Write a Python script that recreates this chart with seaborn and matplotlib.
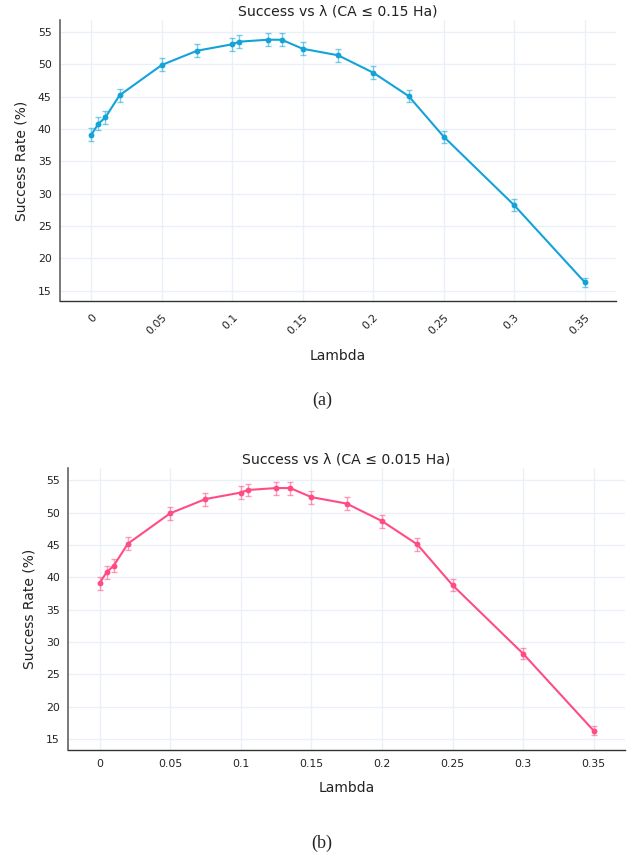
import matplotlib
matplotlib.use("Agg")
import matplotlib.pyplot as plt
import seaborn as sns
import pandas as pd

# Regularisation strengths tested
lambdas = [0, 0.005, 0.01, 0.02, 0.05, 0.075, 0.1, 0.105, 0.125, 0.135,
           0.15, 0.175, 0.2, 0.225, 0.25, 0.3, 0.35]

# Success rate (%) and its uncertainty, CA <= 0.15 Ha
success_a = [39.1, 40.8, 41.8, 45.2, 49.9, 52.1, 53.1, 53.5, 53.8, 53.8,
             52.4, 51.4, 48.7, 45.1, 38.8, 28.2, 16.3]
err_a = [1.0, 1.0, 1.0, 1.0, 1.0, 1.0, 1.0, 1.0, 1.0, 1.0,
         1.0, 1.0, 1.0, 1.0, 0.9, 0.9, 0.7]

# Success rate (%) and its uncertainty, CA <= 0.015 Ha
success_b = [39.1, 40.8, 41.8, 45.2, 49.9, 52.1, 53.1, 53.5, 53.8, 53.8,
             52.4, 51.4, 48.7, 45.1, 38.8, 28.2, 16.3]
err_b = [1.0, 1.0, 1.0, 1.0, 1.0, 1.0, 1.0, 1.0, 1.0, 1.0,
         1.0, 1.0, 1.0, 1.0, 0.9, 0.9, 0.7]

x_ticks = [0, 0.05, 0.1, 0.15, 0.2, 0.25, 0.3, 0.35]
x_ticklabels = ["0", "0.05", "0.1", "0.15", "0.2", "0.25", "0.3", "0.35"]
y_ticks = [15, 20, 25, 30, 35, 40, 45, 50, 55]

titles = ["Success vs λ (CA ≤ 0.15 Ha)", "Success vs λ (CA ≤ 0.015 Ha)"]
panel_tags = ["(a)", "(b)"]
colors = ["#13a3d8", "#ff4d84"]

sns.set_style("white")
plt.rcParams["font.family"] = ["DejaVu Sans"]

fig = plt.figure(figsize=(6.33, 8.59), dpi=100)
ax_a = fig.add_axes([0.0948, 0.6492, 0.878, 0.3275])
ax_b = fig.add_axes([0.1079, 0.1272, 0.879, 0.3276])

grid_color = "#ebf0f8"


def draw_panel(ax, success, err, color, title, rotate):
    df = pd.DataFrame({"Lambda": lambdas, "Success": success})
    ax.errorbar(lambdas, success, yerr=err, fmt="none", ecolor=color,
                alpha=0.55, elinewidth=1.0, capsize=2.3, capthick=1.0,
                zorder=3)
    sns.lineplot(data=df, x="Lambda", y="Success", ax=ax, color=color,
                 linewidth=1.5, marker="o", markersize=4.2,
                 markeredgewidth=0, zorder=4)
    ax.set_xlim(-0.0222, 0.372)
    ax.set_ylim(13.35, 56.85)
    ax.set_xticks(x_ticks)
    ax.set_yticks(y_ticks)
    ax.set_yticklabels([str(v) for v in y_ticks], fontsize=7.8)
    if rotate:
        ax.set_xticklabels(x_ticklabels, fontsize=7.8, rotation=45,
                           ha="right", va="top", rotation_mode="anchor")
    else:
        ax.set_xticklabels(x_ticklabels, fontsize=7.8)
    ax.grid(True, color=grid_color, linewidth=1.0)
    ax.set_axisbelow(True)
    ax.tick_params(axis="both", direction="out", length=4, width=0.8,
                   color="#444444", pad=2, labelcolor="#222222")
    ax.tick_params(axis="x", pad=4 if rotate else 3)
    for side in ("top", "right"):
        ax.spines[side].set_visible(False)
    ax.spines["left"].set_color("#555555")
    ax.spines["bottom"].set_color("#333333")
    ax.spines["left"].set_linewidth(1.1)
    ax.spines["bottom"].set_linewidth(1.0)
    ax.set_title(title, fontsize=10.1, pad=3.5, color="#222222")
    ax.set_xlabel("Lambda", fontsize=10, color="#222222",
                  labelpad=9 if rotate else 8)
    ax.set_ylabel("Success Rate (%)", fontsize=10, color="#222222",
                  labelpad=7)


draw_panel(ax_a, success_a, err_a, colors[0], titles[0], True)
draw_panel(ax_b, success_b, err_b, colors[1], titles[1], False)

# Sub-figure tags
fig.text(322 / 633, 1 - 400 / 859, panel_tags[0], ha="center", va="center",
         fontsize=13, family="Liberation Serif")
fig.text(322 / 633, 1 - 843 / 859, panel_tags[1], ha="center", va="center",
         fontsize=13, family="Liberation Serif")

fig.savefig("out.png", dpi=100)
